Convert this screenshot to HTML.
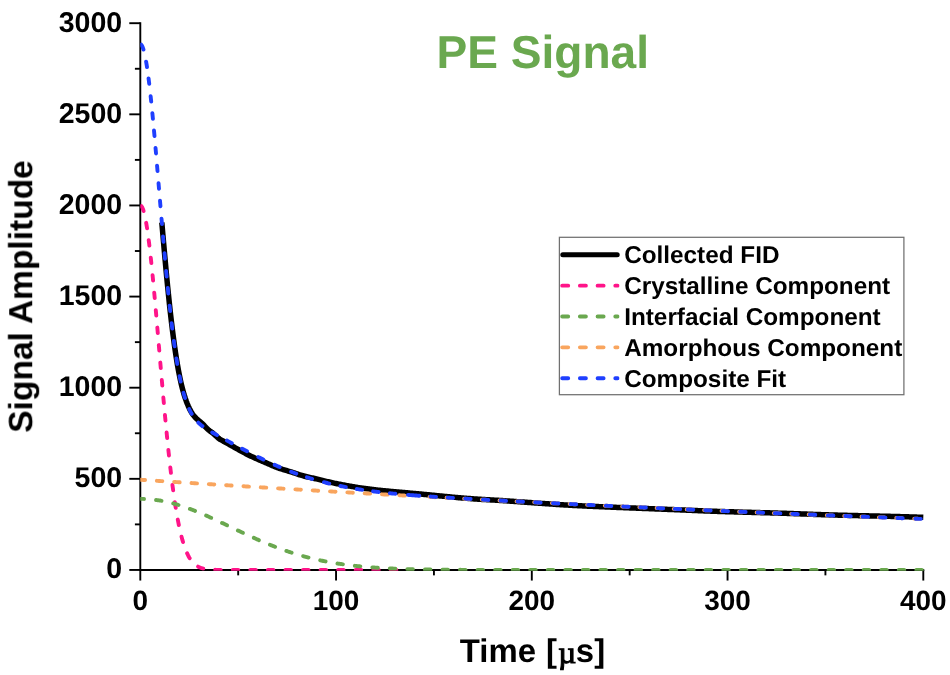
<!DOCTYPE html>
<html lang="en"><head><meta charset="utf-8"><title>PE Signal</title>
<style>html,body{margin:0;padding:0;background:#fff;}body{width:950px;height:675px;overflow:hidden;}svg{display:block;}</style>
</head><body>
<svg width="950" height="675" viewBox="0 0 950 675">
<defs><clipPath id="lg"><rect x="555" y="230" width="64.6" height="180"/></clipPath><filter id="soft" x="0" y="0" width="950" height="675" filterUnits="userSpaceOnUse" color-interpolation-filters="sRGB"><feGaussianBlur stdDeviation="0.45"/></filter><clipPath id="plot"><rect x="140.30" y="0" width="809.70" height="570.65"/></clipPath></defs>
<rect width="950" height="675" fill="#ffffff"/>
<g filter="url(#soft)">
<g stroke="#000" stroke-width="1.90" fill="none" stroke-linecap="butt">
<path d="M140.30,22.25 V570.90"/>
<path d="M139.35,569.95 H924.25"/>
<path d="M129.30,569.95 H140.30"/>
<path d="M134.90,524.39 H140.30"/>
<path d="M129.30,478.83 H140.30"/>
<path d="M134.90,433.26 H140.30"/>
<path d="M129.30,387.70 H140.30"/>
<path d="M134.90,342.14 H140.30"/>
<path d="M129.30,296.58 H140.30"/>
<path d="M134.90,251.01 H140.30"/>
<path d="M129.30,205.45 H140.30"/>
<path d="M134.90,159.89 H140.30"/>
<path d="M129.30,114.33 H140.30"/>
<path d="M134.90,68.76 H140.30"/>
<path d="M129.30,23.20 H140.30"/>
<path d="M140.30,569.95 V580.55"/>
<path d="M238.18,569.95 V575.35"/>
<path d="M336.05,569.95 V580.55"/>
<path d="M433.93,569.95 V575.35"/>
<path d="M531.80,569.95 V580.55"/>
<path d="M629.67,569.95 V575.35"/>
<path d="M727.55,569.95 V580.55"/>
<path d="M825.42,569.95 V575.35"/>
<path d="M923.30,569.95 V580.55"/>
</g>
<g clip-path="url(#plot)" fill="none" stroke-linejoin="round">
<path d="M161.83,222.43 L162.81,233.86 L163.79,245.08 L164.77,256.07 L165.75,266.77 L166.73,277.15 L167.71,287.18 L168.68,296.84 L169.66,306.11 L170.64,314.96 L171.62,323.40 L172.60,331.40 L173.58,338.97 L174.56,346.12 L175.54,352.83 L176.51,359.12 L177.49,365.01 L178.47,370.49 L179.45,375.58 L180.43,380.28 L181.41,384.59 L182.39,388.52 L183.37,392.12 L184.34,395.40 L185.32,398.40 L186.30,401.16 L187.28,403.69 L188.26,406.03 L189.24,408.21 L190.22,410.20 L191.20,411.95 L192.17,413.51 L193.15,414.89 L194.13,416.12 L195.11,417.22 L196.09,418.22 L197.07,419.14 L198.05,420.00 L199.03,420.83 L200.00,421.63 L200.98,422.44 L201.96,423.31 L202.94,424.26 L203.92,425.26 L204.90,426.29 L205.88,427.33 L206.86,428.34 L207.83,429.31 L208.81,430.19 L209.79,430.98 L210.77,431.62 L211.75,432.26 L212.73,433.02 L213.71,433.86 L214.69,434.75 L215.66,435.67 L216.64,436.59 L217.62,437.48 L218.60,438.30 L219.58,439.03 L220.56,439.63 L221.54,440.17 L222.52,440.70 L223.49,441.24 L224.47,441.78 L225.45,442.33 L226.43,442.87 L227.41,443.42 L228.39,443.97 L229.37,444.52 L230.35,445.07 L231.32,445.62 L232.30,446.17 L233.28,446.72 L234.26,447.27 L235.24,447.82 L236.22,448.36 L237.20,448.91 L238.18,449.46 L239.15,450.00 L240.13,450.54 L241.11,451.08 L242.09,451.61 L243.07,452.14 L244.05,452.67 L245.03,453.19 L246.00,453.71 L246.98,454.22 L247.96,454.71 L248.94,455.20 L249.92,455.68 L250.90,456.15 L251.88,456.62 L252.86,457.07 L253.84,457.52 L254.81,457.96 L255.79,458.40 L256.77,458.83 L257.75,459.26 L258.73,459.69 L259.71,460.11 L260.69,460.53 L261.67,460.95 L262.64,461.37 L263.62,461.79 L264.60,462.21 L265.58,462.63 L266.56,463.05 L267.54,463.48 L268.52,463.91 L269.50,464.34 L270.47,464.78 L271.45,465.23 L272.43,465.67 L273.41,466.09 L274.39,466.49 L275.37,466.88 L276.35,467.25 L277.33,467.61 L278.30,467.96 L279.28,468.29 L280.26,468.62 L281.24,468.94 L282.22,469.25 L283.20,469.55 L284.18,469.85 L285.15,470.15 L286.13,470.44 L287.11,470.73 L288.09,471.02 L289.07,471.32 L290.05,471.61 L291.03,471.91 L292.01,472.21 L292.99,472.52 L293.96,472.84 L294.94,473.17 L295.92,473.51 L296.90,473.85 L297.88,474.20 L298.86,474.53 L299.84,474.84 L300.82,475.14 L301.79,475.43 L302.77,475.71 L303.75,475.97 L304.73,476.23 L305.71,476.48 L306.69,476.72 L307.67,476.95 L308.64,477.18 L309.62,477.40 L310.60,477.62 L311.58,477.83 L312.56,478.05 L313.54,478.26 L314.52,478.48 L315.50,478.69 L316.48,478.91 L317.45,479.13 L318.43,479.36 L319.41,479.59 L320.39,479.83 L321.37,480.07 L322.35,480.33 L323.33,480.58 L324.31,480.83 L325.28,481.08 L326.26,481.32 L327.24,481.56 L328.22,481.79 L329.20,482.02 L330.18,482.24 L331.16,482.47 L332.13,482.68 L333.11,482.90 L334.09,483.11 L335.07,483.32 L336.05,483.52 L337.03,483.72 L338.01,483.92 L338.99,484.12 L339.97,484.31 L340.94,484.50 L341.92,484.69 L342.90,484.88 L343.88,485.07 L344.86,485.25 L345.84,485.44 L346.82,485.62 L347.80,485.80 L348.77,485.98 L349.75,486.15 L350.73,486.32 L351.71,486.49 L352.69,486.66 L353.67,486.82 L354.65,486.98 L355.62,487.14 L356.60,487.30 L357.58,487.45 L358.56,487.60 L359.54,487.74 L360.52,487.89 L361.50,488.03 L362.48,488.17 L363.46,488.31 L364.43,488.44 L365.41,488.57 L366.39,488.70 L367.37,488.83 L368.35,488.96 L369.33,489.08 L370.31,489.20 L371.29,489.32 L372.26,489.44 L373.24,489.56 L374.22,489.67 L375.20,489.78 L376.18,489.89 L377.16,490.00 L378.14,490.11 L379.12,490.22 L380.09,490.32 L381.07,490.42 L382.05,490.53 L383.03,490.63 L384.01,490.73 L384.99,490.82 L385.97,490.92 L386.95,491.02 L387.92,491.11 L388.90,491.21 L389.88,491.30 L390.86,491.39 L391.84,491.48 L392.82,491.57 L393.80,491.66 L394.77,491.75 L395.75,491.84 L396.73,491.92 L397.71,492.01 L398.69,492.10 L399.67,492.18 L400.65,492.27 L401.63,492.35 L402.61,492.44 L403.58,492.52 L404.56,492.60 L405.54,492.69 L406.52,492.77 L407.50,492.86 L408.48,492.94 L409.46,493.03 L410.44,493.12 L411.41,493.21 L412.39,493.29 L413.37,493.38 L414.35,493.47 L415.33,493.56 L416.31,493.65 L417.29,493.74 L418.26,493.84 L419.24,493.93 L420.22,494.02 L421.20,494.11 L422.18,494.21 L423.16,494.30 L424.14,494.39 L425.12,494.49 L426.10,494.58 L427.07,494.67 L428.05,494.77 L429.03,494.86 L430.01,494.96 L430.99,495.05 L431.97,495.15 L432.95,495.24 L433.93,495.34 L434.90,495.43 L435.88,495.53 L436.86,495.63 L437.84,495.72 L438.82,495.82 L439.80,495.91 L440.78,496.00 L441.75,496.10 L442.73,496.19 L443.71,496.29 L444.69,496.38 L445.67,496.47 L446.65,496.57 L447.63,496.66 L448.61,496.75 L449.59,496.84 L450.56,496.93 L451.54,497.03 L452.52,497.12 L453.50,497.21 L454.48,497.29 L455.46,497.38 L456.44,497.47 L457.42,497.56 L458.39,497.64 L459.37,497.73 L460.35,497.81 L461.33,497.90 L462.31,497.98 L463.29,498.06 L464.27,498.14 L465.25,498.22 L466.22,498.30 L467.20,498.38 L468.18,498.46 L469.16,498.53 L470.14,498.61 L471.12,498.68 L472.10,498.75 L473.07,498.82 L474.05,498.89 L475.03,498.96 L476.01,499.03 L476.99,499.09 L477.97,499.16 L478.95,499.22 L479.93,499.28 L480.91,499.34 L481.88,499.40 L482.86,499.46 L483.84,499.51 L484.82,499.56 L485.80,499.62 L486.78,499.67 L487.76,499.72 L488.74,499.78 L489.71,499.83 L490.69,499.89 L491.67,499.95 L492.65,500.00 L493.63,500.06 L494.61,500.12 L495.59,500.18 L496.56,500.24 L497.54,500.30 L498.52,500.36 L499.50,500.42 L500.48,500.49 L501.46,500.55 L502.44,500.61 L503.42,500.68 L504.40,500.74 L505.37,500.81 L506.35,500.87 L507.33,500.94 L508.31,501.00 L509.29,501.07 L510.27,501.14 L511.25,501.21 L512.23,501.27 L513.20,501.34 L514.18,501.41 L515.16,501.48 L516.14,501.55 L517.12,501.62 L518.10,501.69 L519.08,501.76 L520.06,501.83 L521.03,501.90 L522.01,501.97 L522.99,502.04 L523.97,502.11 L524.95,502.18 L525.93,502.25 L526.91,502.32 L527.88,502.39 L528.86,502.46 L529.84,502.53 L530.82,502.60 L531.80,502.68 L532.78,502.75 L533.76,502.82 L534.74,502.89 L535.72,502.96 L536.69,503.03 L537.67,503.10 L538.65,503.17 L539.63,503.24 L540.61,503.31 L541.59,503.38 L542.57,503.45 L543.55,503.52 L544.52,503.59 L545.50,503.66 L546.48,503.73 L547.46,503.80 L548.44,503.86 L549.42,503.93 L550.40,504.00 L551.38,504.07 L552.35,504.13 L553.33,504.20 L554.31,504.26 L555.29,504.33 L556.27,504.39 L557.25,504.46 L558.23,504.52 L559.21,504.59 L560.18,504.65 L561.16,504.71 L562.14,504.77 L563.12,504.83 L564.10,504.89 L565.08,504.95 L566.06,505.01 L567.04,505.07 L568.01,505.13 L568.99,505.19 L569.97,505.24 L570.95,505.30 L571.93,505.35 L572.91,505.41 L573.89,505.46 L574.87,505.51 L575.84,505.57 L576.82,505.62 L577.80,505.67 L578.78,505.71 L579.76,505.76 L580.74,505.81 L581.72,505.86 L582.69,505.90 L583.67,505.95 L584.65,506.00 L585.63,506.04 L586.61,506.09 L587.59,506.13 L588.57,506.18 L589.55,506.22 L590.53,506.26 L591.50,506.31 L592.48,506.35 L593.46,506.40 L594.44,506.44 L595.42,506.48 L596.40,506.53 L597.38,506.57 L598.36,506.61 L599.33,506.65 L600.31,506.70 L601.29,506.74 L602.27,506.78 L603.25,506.82 L604.23,506.86 L605.21,506.91 L606.18,506.95 L607.16,506.99 L608.14,507.03 L609.12,507.07 L610.10,507.11 L611.08,507.15 L612.06,507.19 L613.04,507.23 L614.02,507.27 L614.99,507.31 L615.97,507.35 L616.95,507.39 L617.93,507.43 L618.91,507.47 L619.89,507.51 L620.87,507.55 L621.85,507.59 L622.82,507.62 L623.80,507.66 L624.78,507.70 L625.76,507.74 L626.74,507.78 L627.72,507.82 L628.70,507.86 L629.67,507.89 L630.65,507.93 L631.63,507.97 L632.61,508.01 L633.59,508.05 L634.57,508.09 L635.55,508.12 L636.53,508.16 L637.50,508.20 L638.48,508.24 L639.46,508.27 L640.44,508.31 L641.42,508.35 L642.40,508.39 L643.38,508.43 L644.36,508.46 L645.34,508.50 L646.31,508.54 L647.29,508.58 L648.27,508.61 L649.25,508.65 L650.23,508.69 L651.21,508.73 L652.19,508.77 L653.16,508.80 L654.14,508.84 L655.12,508.88 L656.10,508.92 L657.08,508.95 L658.06,508.99 L659.04,509.03 L660.02,509.07 L661.00,509.11 L661.97,509.15 L662.95,509.18 L663.93,509.22 L664.91,509.26 L665.89,509.30 L666.87,509.34 L667.85,509.38 L668.83,509.41 L669.80,509.45 L670.78,509.49 L671.76,509.53 L672.74,509.57 L673.72,509.61 L674.70,509.65 L675.68,509.69 L676.65,509.73 L677.63,509.77 L678.61,509.81 L679.59,509.85 L680.57,509.89 L681.55,509.93 L682.53,509.97 L683.51,510.01 L684.49,510.05 L685.46,510.09 L686.44,510.13 L687.42,510.17 L688.40,510.21 L689.38,510.26 L690.36,510.30 L691.34,510.34 L692.32,510.38 L693.29,510.42 L694.27,510.47 L695.25,510.51 L696.23,510.55 L697.21,510.59 L698.19,510.64 L699.17,510.68 L700.14,510.72 L701.12,510.76 L702.10,510.80 L703.08,510.84 L704.06,510.88 L705.04,510.92 L706.02,510.95 L707.00,510.99 L707.97,511.03 L708.95,511.07 L709.93,511.10 L710.91,511.14 L711.89,511.17 L712.87,511.21 L713.85,511.24 L714.83,511.28 L715.81,511.31 L716.78,511.35 L717.76,511.38 L718.74,511.41 L719.72,511.44 L720.70,511.48 L721.68,511.51 L722.66,511.54 L723.63,511.57 L724.61,511.60 L725.59,511.63 L726.57,511.66 L727.55,511.69 L728.53,511.72 L729.51,511.75 L730.49,511.78 L731.46,511.81 L732.44,511.84 L733.42,511.87 L734.40,511.90 L735.38,511.93 L736.36,511.95 L737.34,511.98 L738.32,512.01 L739.30,512.04 L740.27,512.07 L741.25,512.09 L742.23,512.12 L743.21,512.15 L744.19,512.17 L745.17,512.20 L746.15,512.23 L747.12,512.26 L748.10,512.28 L749.08,512.31 L750.06,512.34 L751.04,512.36 L752.02,512.39 L753.00,512.42 L753.98,512.44 L754.95,512.47 L755.93,512.50 L756.91,512.52 L757.89,512.55 L758.87,512.58 L759.85,512.60 L760.83,512.63 L761.81,512.66 L762.79,512.68 L763.76,512.71 L764.74,512.74 L765.72,512.76 L766.70,512.79 L767.68,512.82 L768.66,512.85 L769.64,512.87 L770.62,512.90 L771.59,512.93 L772.57,512.96 L773.55,512.99 L774.53,513.01 L775.51,513.04 L776.49,513.07 L777.47,513.10 L778.44,513.13 L779.42,513.16 L780.40,513.19 L781.38,513.22 L782.36,513.25 L783.34,513.28 L784.32,513.31 L785.30,513.34 L786.28,513.37 L787.25,513.41 L788.23,513.44 L789.21,513.47 L790.19,513.50 L791.17,513.54 L792.15,513.57 L793.13,513.60 L794.11,513.64 L795.08,513.67 L796.06,513.71 L797.04,513.74 L798.02,513.78 L799.00,513.81 L799.98,513.85 L800.96,513.89 L801.93,513.93 L802.91,513.96 L803.89,514.00 L804.87,514.04 L805.85,514.08 L806.83,514.12 L807.81,514.16 L808.79,514.20 L809.77,514.24 L810.74,514.27 L811.72,514.31 L812.70,514.35 L813.68,514.38 L814.66,514.42 L815.64,514.45 L816.62,514.49 L817.60,514.52 L818.57,514.55 L819.55,514.59 L820.53,514.62 L821.51,514.65 L822.49,514.68 L823.47,514.71 L824.45,514.74 L825.42,514.77 L826.40,514.80 L827.38,514.83 L828.36,514.86 L829.34,514.89 L830.32,514.92 L831.30,514.95 L832.28,514.98 L833.26,515.00 L834.23,515.03 L835.21,515.06 L836.19,515.08 L837.17,515.11 L838.15,515.14 L839.13,515.16 L840.11,515.19 L841.09,515.21 L842.06,515.24 L843.04,515.26 L844.02,515.29 L845.00,515.31 L845.98,515.34 L846.96,515.36 L847.94,515.39 L848.91,515.41 L849.89,515.43 L850.87,515.46 L851.85,515.48 L852.83,515.50 L853.81,515.53 L854.79,515.55 L855.77,515.57 L856.75,515.59 L857.72,515.62 L858.70,515.64 L859.68,515.66 L860.66,515.68 L861.64,515.71 L862.62,515.73 L863.60,515.75 L864.58,515.77 L865.55,515.79 L866.53,515.82 L867.51,515.84 L868.49,515.86 L869.47,515.88 L870.45,515.90 L871.43,515.93 L872.40,515.95 L873.38,515.97 L874.36,515.99 L875.34,516.01 L876.32,516.04 L877.30,516.06 L878.28,516.08 L879.26,516.10 L880.24,516.13 L881.21,516.15 L882.19,516.17 L883.17,516.20 L884.15,516.22 L885.13,516.24 L886.11,516.27 L887.09,516.29 L888.07,516.31 L889.04,516.34 L890.02,516.36 L891.00,516.39 L891.98,516.41 L892.96,516.44 L893.94,516.46 L894.92,516.49 L895.89,516.51 L896.87,516.54 L897.85,516.56 L898.83,516.59 L899.81,516.62 L900.79,516.64 L901.77,516.67 L902.75,516.70 L903.72,516.73 L904.70,516.75 L905.68,516.78 L906.66,516.81 L907.64,516.84 L908.62,516.87 L909.60,516.90 L910.58,516.93 L911.56,516.96 L912.53,516.99 L913.51,517.02 L914.49,517.06 L915.47,517.09 L916.45,517.12 L917.43,517.15 L918.41,517.19 L919.38,517.22 L920.36,517.26 L921.34,517.29 L922.32,517.33 L923.30,517.36" stroke="#000" stroke-width="5.5" stroke-linecap="butt"/>
<path d="M140.30,205.45 L141.28,205.94 L142.26,207.41 L143.24,209.85 L144.22,213.24 L145.19,217.55 L146.17,222.74 L147.15,228.78 L148.13,235.62 L149.11,243.21 L150.09,251.48 L151.07,260.38 L152.05,269.85 L153.02,279.81 L154.00,290.19 L154.98,300.93 L155.96,311.96 L156.94,323.20 L157.92,334.59 L158.90,346.06 L159.88,357.54 L160.85,368.98 L161.83,380.31 L162.81,391.49 L163.79,402.46 L164.77,413.18 L165.75,423.61 L166.73,433.72 L167.71,443.46 L168.68,452.83 L169.66,461.80 L170.64,470.35 L171.62,478.47 L172.60,486.15 L173.58,493.40 L174.56,500.21 L175.54,506.58 L176.51,512.53 L177.49,518.06 L178.47,523.18 L179.45,527.91 L180.43,532.27 L181.41,536.26 L182.39,539.91 L183.37,543.24 L184.34,546.27 L185.32,549.00 L186.30,551.48 L187.28,553.70 L188.26,555.69 L189.24,557.48 L190.22,559.07 L191.20,560.48 L192.17,561.73 L193.15,562.84 L194.13,563.81 L195.11,564.66 L196.09,565.41 L197.07,566.06 L198.05,566.63 L199.03,567.12 L200.00,567.55 L200.98,567.92 L201.96,568.23 L202.94,568.50 L203.92,568.73 L204.90,568.93 L205.88,569.10 L206.86,569.24 L207.83,569.36 L208.81,569.46 L209.79,569.55 L210.77,569.62 L211.75,569.68 L212.73,569.73 L213.71,569.77 L214.69,569.80 L215.66,569.83 L216.64,569.85 L217.62,569.87 L218.60,569.89 L219.58,569.90 L220.56,569.91 L221.54,569.92 L222.52,569.92 L223.49,569.93 L224.47,569.93 L225.45,569.94 L226.43,569.94 L227.41,569.94 L228.39,569.94 L229.37,569.94 L230.35,569.95 L231.32,569.95 L232.30,569.95 L233.28,569.95 L234.26,569.95 L235.24,569.95 L236.22,569.95 L237.20,569.95 L238.18,569.95 L239.15,569.95 L240.13,569.95 L241.11,569.95 L242.09,569.95 L243.07,569.95 L244.05,569.95 L245.03,569.95 L246.00,569.95 L246.98,569.95 L247.96,569.95 L248.94,569.95 L249.92,569.95 L250.90,569.95 L251.88,569.95 L252.86,569.95 L253.84,569.95 L254.81,569.95 L255.79,569.95 L256.77,569.95 L257.75,569.95 L258.73,569.95 L259.71,569.95 L260.69,569.95 L261.67,569.95 L262.64,569.95 L263.62,569.95 L264.60,569.95 L265.58,569.95 L266.56,569.95 L267.54,569.95 L268.52,569.95 L269.50,569.95 L270.47,569.95 L271.45,569.95 L272.43,569.95 L273.41,569.95 L274.39,569.95 L275.37,569.95 L276.35,569.95 L277.33,569.95 L278.30,569.95 L279.28,569.95 L280.26,569.95 L281.24,569.95 L282.22,569.95 L283.20,569.95 L284.18,569.95 L285.15,569.95 L286.13,569.95 L287.11,569.95 L288.09,569.95 L289.07,569.95 L290.05,569.95 L291.03,569.95 L292.01,569.95 L292.99,569.95 L293.96,569.95 L294.94,569.95 L295.92,569.95 L296.90,569.95 L297.88,569.95 L298.86,569.95 L299.84,569.95 L300.82,569.95 L301.79,569.95 L302.77,569.95 L303.75,569.95 L304.73,569.95 L305.71,569.95 L306.69,569.95 L307.67,569.95 L308.64,569.95 L309.62,569.95 L310.60,569.95 L311.58,569.95 L312.56,569.95 L313.54,569.95 L314.52,569.95 L315.50,569.95 L316.48,569.95 L317.45,569.95 L318.43,569.95 L319.41,569.95 L320.39,569.95 L321.37,569.95 L322.35,569.95 L323.33,569.95 L324.31,569.95 L325.28,569.95 L326.26,569.95 L327.24,569.95 L328.22,569.95 L329.20,569.95 L330.18,569.95 L331.16,569.95 L332.13,569.95 L333.11,569.95 L334.09,569.95 L335.07,569.95 L336.05,569.95 L337.03,569.95 L338.01,569.95 L338.99,569.95 L339.97,569.95 L340.94,569.95 L341.92,569.95 L342.90,569.95 L343.88,569.95 L344.86,569.95 L345.84,569.95 L346.82,569.95 L347.80,569.95 L348.77,569.95 L349.75,569.95 L350.73,569.95 L351.71,569.95 L352.69,569.95 L353.67,569.95 L354.65,569.95 L355.62,569.95 L356.60,569.95 L357.58,569.95 L358.56,569.95 L359.54,569.95 L360.52,569.95 L361.50,569.95 L362.48,569.95 L363.46,569.95 L364.43,569.95 L365.41,569.95 L366.39,569.95 L367.37,569.95 L368.35,569.95 L369.33,569.95 L370.31,569.95 L371.29,569.95 L372.26,569.95 L373.24,569.95 L374.22,569.95 L375.20,569.95 L376.18,569.95 L377.16,569.95 L378.14,569.95 L379.12,569.95 L380.09,569.95 L381.07,569.95 L382.05,569.95 L383.03,569.95 L384.01,569.95 L384.99,569.95 L385.97,569.95 L386.95,569.95 L387.92,569.95 L388.90,569.95 L389.88,569.95 L390.86,569.95 L391.84,569.95 L392.82,569.95 L393.80,569.95 L394.77,569.95 L395.75,569.95 L396.73,569.95 L397.71,569.95 L398.69,569.95 L399.67,569.95 L400.65,569.95 L401.63,569.95 L402.61,569.95 L403.58,569.95 L404.56,569.95" stroke="#FF1489" stroke-width="3.9" stroke-dasharray="5.500 12.060" stroke-dashoffset="-1.250" stroke-linecap="round"/>
<path d="M140.30,498.87 L141.28,498.88 L142.26,498.89 L143.24,498.91 L144.22,498.94 L145.19,498.98 L146.17,499.02 L147.15,499.08 L148.13,499.14 L149.11,499.21 L150.09,499.29 L151.07,499.38 L152.05,499.48 L153.02,499.58 L154.00,499.69 L154.98,499.81 L155.96,499.94 L156.94,500.08 L157.92,500.22 L158.90,500.37 L159.88,500.54 L160.85,500.70 L161.83,500.88 L162.81,501.06 L163.79,501.25 L164.77,501.45 L165.75,501.66 L166.73,501.87 L167.71,502.09 L168.68,502.32 L169.66,502.56 L170.64,502.80 L171.62,503.05 L172.60,503.31 L173.58,503.57 L174.56,503.84 L175.54,504.12 L176.51,504.40 L177.49,504.69 L178.47,504.99 L179.45,505.29 L180.43,505.60 L181.41,505.92 L182.39,506.24 L183.37,506.57 L184.34,506.90 L185.32,507.24 L186.30,507.58 L187.28,507.93 L188.26,508.29 L189.24,508.65 L190.22,509.01 L191.20,509.38 L192.17,509.76 L193.15,510.14 L194.13,510.52 L195.11,510.91 L196.09,511.30 L197.07,511.70 L198.05,512.10 L199.03,512.51 L200.00,512.92 L200.98,513.33 L201.96,513.75 L202.94,514.17 L203.92,514.59 L204.90,515.02 L205.88,515.45 L206.86,515.89 L207.83,516.32 L208.81,516.76 L209.79,517.20 L210.77,517.65 L211.75,518.10 L212.73,518.54 L213.71,519.00 L214.69,519.45 L215.66,519.90 L216.64,520.36 L217.62,520.82 L218.60,521.28 L219.58,521.74 L220.56,522.20 L221.54,522.67 L222.52,523.13 L223.49,523.60 L224.47,524.07 L225.45,524.53 L226.43,525.00 L227.41,525.47 L228.39,525.94 L229.37,526.41 L230.35,526.88 L231.32,527.34 L232.30,527.81 L233.28,528.28 L234.26,528.75 L235.24,529.22 L236.22,529.68 L237.20,530.15 L238.18,530.62 L239.15,531.08 L240.13,531.55 L241.11,532.01 L242.09,532.47 L243.07,532.93 L244.05,533.39 L245.03,533.85 L246.00,534.31 L246.98,534.76 L247.96,535.21 L248.94,535.66 L249.92,536.11 L250.90,536.56 L251.88,537.01 L252.86,537.45 L253.84,537.89 L254.81,538.33 L255.79,538.77 L256.77,539.20 L257.75,539.63 L258.73,540.06 L259.71,540.49 L260.69,540.91 L261.67,541.33 L262.64,541.75 L263.62,542.17 L264.60,542.58 L265.58,542.99 L266.56,543.40 L267.54,543.80 L268.52,544.20 L269.50,544.60 L270.47,544.99 L271.45,545.39 L272.43,545.77 L273.41,546.16 L274.39,546.54 L275.37,546.92 L276.35,547.29 L277.33,547.66 L278.30,548.03 L279.28,548.39 L280.26,548.75 L281.24,549.11 L282.22,549.47 L283.20,549.81 L284.18,550.16 L285.15,550.50 L286.13,550.84 L287.11,551.18 L288.09,551.51 L289.07,551.84 L290.05,552.16 L291.03,552.48 L292.01,552.80 L292.99,553.11 L293.96,553.42 L294.94,553.72 L295.92,554.03 L296.90,554.32 L297.88,554.62 L298.86,554.91 L299.84,555.19 L300.82,555.48 L301.79,555.76 L302.77,556.03 L303.75,556.30 L304.73,556.57 L305.71,556.83 L306.69,557.10 L307.67,557.35 L308.64,557.61 L309.62,557.85 L310.60,558.10 L311.58,558.34 L312.56,558.58 L313.54,558.82 L314.52,559.05 L315.50,559.28 L316.48,559.50 L317.45,559.72 L318.43,559.94 L319.41,560.15 L320.39,560.36 L321.37,560.57 L322.35,560.77 L323.33,560.97 L324.31,561.17 L325.28,561.36 L326.26,561.55 L327.24,561.74 L328.22,561.93 L329.20,562.11 L330.18,562.28 L331.16,562.46 L332.13,562.63 L333.11,562.80 L334.09,562.96 L335.07,563.13 L336.05,563.28 L337.03,563.44 L338.01,563.59 L338.99,563.74 L339.97,563.89 L340.94,564.04 L341.92,564.18 L342.90,564.32 L343.88,564.46 L344.86,564.59 L345.84,564.72 L346.82,564.85 L347.80,564.98 L348.77,565.10 L349.75,565.22 L350.73,565.34 L351.71,565.45 L352.69,565.57 L353.67,565.68 L354.65,565.79 L355.62,565.90 L356.60,566.00 L357.58,566.10 L358.56,566.20 L359.54,566.30 L360.52,566.40 L361.50,566.49 L362.48,566.58 L363.46,566.67 L364.43,566.76 L365.41,566.84 L366.39,566.93 L367.37,567.01 L368.35,567.09 L369.33,567.17 L370.31,567.24 L371.29,567.32 L372.26,567.39 L373.24,567.46 L374.22,567.53 L375.20,567.60 L376.18,567.66 L377.16,567.73 L378.14,567.79 L379.12,567.85 L380.09,567.91 L381.07,567.97 L382.05,568.03 L383.03,568.08 L384.01,568.14 L384.99,568.19 L385.97,568.24 L386.95,568.29 L387.92,568.34 L388.90,568.39 L389.88,568.43 L390.86,568.48 L391.84,568.52 L392.82,568.57 L393.80,568.61 L394.77,568.65 L395.75,568.69 L396.73,568.73 L397.71,568.76 L398.69,568.80 L399.67,568.84 L400.65,568.87 L401.63,568.90 L402.61,568.94 L403.58,568.97 L404.56,569.00 L405.54,569.03 L406.52,569.06 L407.50,569.09 L408.48,569.11 L409.46,569.14 L410.44,569.17 L411.41,569.19 L412.39,569.22 L413.37,569.24 L414.35,569.26 L415.33,569.29 L416.31,569.31 L417.29,569.33 L418.26,569.35 L419.24,569.37 L420.22,569.39 L421.20,569.41 L422.18,569.42 L423.16,569.44 L424.14,569.46 L425.12,569.48 L426.10,569.49 L427.07,569.51 L428.05,569.52 L429.03,569.54 L430.01,569.55 L430.99,569.57 L431.97,569.58 L432.95,569.59 L433.93,569.60 L434.90,569.62 L435.88,569.63 L436.86,569.64 L437.84,569.65 L438.82,569.66 L439.80,569.67 L440.78,569.68 L441.75,569.69 L442.73,569.70 L443.71,569.71 L444.69,569.72 L445.67,569.73 L446.65,569.73 L447.63,569.74 L448.61,569.75 L449.59,569.76 L450.56,569.76 L451.54,569.77 L452.52,569.78 L453.50,569.78 L454.48,569.79 L455.46,569.80 L456.44,569.80 L457.42,569.81 L458.39,569.81 L459.37,569.82 L460.35,569.82 L461.33,569.83 L462.31,569.83 L463.29,569.84 L464.27,569.84 L465.25,569.85 L466.22,569.85 L467.20,569.85 L468.18,569.86 L469.16,569.86 L470.14,569.86 L471.12,569.87 L472.10,569.87 L473.07,569.87 L474.05,569.88 L475.03,569.88 L476.01,569.88 L476.99,569.89 L477.97,569.89 L478.95,569.89 L479.93,569.89 L480.91,569.90 L481.88,569.90 L482.86,569.90 L483.84,569.90 L484.82,569.90 L485.80,569.91 L486.78,569.91 L487.76,569.91 L488.74,569.91 L489.71,569.91 L490.69,569.91 L491.67,569.92 L492.65,569.92 L493.63,569.92 L494.61,569.92 L495.59,569.92 L496.56,569.92 L497.54,569.92 L498.52,569.92 L499.50,569.93 L500.48,569.93 L501.46,569.93 L502.44,569.93 L503.42,569.93 L504.40,569.93 L505.37,569.93 L506.35,569.93 L507.33,569.93 L508.31,569.93 L509.29,569.93 L510.27,569.93 L511.25,569.94 L512.23,569.94 L513.20,569.94 L514.18,569.94 L515.16,569.94 L516.14,569.94 L517.12,569.94 L518.10,569.94 L519.08,569.94 L520.06,569.94 L521.03,569.94 L522.01,569.94 L522.99,569.94 L523.97,569.94 L524.95,569.94 L525.93,569.94 L526.91,569.94 L527.88,569.94 L528.86,569.94 L529.84,569.94 L530.82,569.94 L531.80,569.94 L532.78,569.94 L533.76,569.95 L534.74,569.95 L535.72,569.95 L536.69,569.95 L537.67,569.95 L538.65,569.95 L539.63,569.95 L540.61,569.95 L541.59,569.95 L542.57,569.95 L543.55,569.95 L544.52,569.95 L545.50,569.95 L546.48,569.95 L547.46,569.95 L548.44,569.95 L549.42,569.95 L550.40,569.95 L551.38,569.95 L552.35,569.95 L553.33,569.95 L554.31,569.95 L555.29,569.95 L556.27,569.95 L557.25,569.95 L558.23,569.95 L559.21,569.95 L560.18,569.95 L561.16,569.95 L562.14,569.95 L563.12,569.95 L564.10,569.95 L565.08,569.95 L566.06,569.95 L567.04,569.95 L568.01,569.95 L568.99,569.95 L569.97,569.95 L570.95,569.95 L571.93,569.95 L572.91,569.95 L573.89,569.95 L574.87,569.95 L575.84,569.95 L576.82,569.95 L577.80,569.95 L578.78,569.95 L579.76,569.95 L580.74,569.95 L581.72,569.95 L582.69,569.95 L583.67,569.95 L584.65,569.95 L585.63,569.95 L586.61,569.95 L587.59,569.95 L588.57,569.95 L589.55,569.95 L590.53,569.95 L591.50,569.95 L592.48,569.95 L593.46,569.95 L594.44,569.95 L595.42,569.95 L596.40,569.95 L597.38,569.95 L598.36,569.95 L599.33,569.95 L600.31,569.95 L601.29,569.95 L602.27,569.95 L603.25,569.95 L604.23,569.95 L605.21,569.95 L606.18,569.95 L607.16,569.95 L608.14,569.95 L609.12,569.95 L610.10,569.95 L611.08,569.95 L612.06,569.95 L613.04,569.95 L614.02,569.95 L614.99,569.95 L615.97,569.95 L616.95,569.95 L617.93,569.95 L618.91,569.95 L619.89,569.95 L620.87,569.95 L621.85,569.95 L622.82,569.95 L623.80,569.95 L624.78,569.95 L625.76,569.95 L626.74,569.95 L627.72,569.95 L628.70,569.95 L629.67,569.95 L630.65,569.95 L631.63,569.95 L632.61,569.95 L633.59,569.95 L634.57,569.95 L635.55,569.95 L636.53,569.95 L637.50,569.95 L638.48,569.95 L639.46,569.95 L640.44,569.95 L641.42,569.95 L642.40,569.95 L643.38,569.95 L644.36,569.95 L645.34,569.95 L646.31,569.95 L647.29,569.95 L648.27,569.95 L649.25,569.95 L650.23,569.95 L651.21,569.95 L652.19,569.95 L653.16,569.95 L654.14,569.95 L655.12,569.95 L656.10,569.95 L657.08,569.95 L658.06,569.95 L659.04,569.95 L660.02,569.95 L661.00,569.95 L661.97,569.95 L662.95,569.95 L663.93,569.95 L664.91,569.95 L665.89,569.95 L666.87,569.95 L667.85,569.95 L668.83,569.95 L669.80,569.95 L670.78,569.95 L671.76,569.95 L672.74,569.95 L673.72,569.95 L674.70,569.95 L675.68,569.95 L676.65,569.95 L677.63,569.95 L678.61,569.95 L679.59,569.95 L680.57,569.95 L681.55,569.95 L682.53,569.95 L683.51,569.95 L684.49,569.95 L685.46,569.95 L686.44,569.95 L687.42,569.95 L688.40,569.95 L689.38,569.95 L690.36,569.95 L691.34,569.95 L692.32,569.95 L693.29,569.95 L694.27,569.95 L695.25,569.95 L696.23,569.95 L697.21,569.95 L698.19,569.95 L699.17,569.95 L700.14,569.95 L701.12,569.95 L702.10,569.95 L703.08,569.95 L704.06,569.95 L705.04,569.95 L706.02,569.95 L707.00,569.95 L707.97,569.95 L708.95,569.95 L709.93,569.95 L710.91,569.95 L711.89,569.95 L712.87,569.95 L713.85,569.95 L714.83,569.95 L715.81,569.95 L716.78,569.95 L717.76,569.95 L718.74,569.95 L719.72,569.95 L720.70,569.95 L721.68,569.95 L722.66,569.95 L723.63,569.95 L724.61,569.95 L725.59,569.95 L726.57,569.95 L727.55,569.95 L728.53,569.95 L729.51,569.95 L730.49,569.95 L731.46,569.95 L732.44,569.95 L733.42,569.95 L734.40,569.95 L735.38,569.95 L736.36,569.95 L737.34,569.95 L738.32,569.95 L739.30,569.95 L740.27,569.95 L741.25,569.95 L742.23,569.95 L743.21,569.95 L744.19,569.95 L745.17,569.95 L746.15,569.95 L747.12,569.95 L748.10,569.95 L749.08,569.95 L750.06,569.95 L751.04,569.95 L752.02,569.95 L753.00,569.95 L753.98,569.95 L754.95,569.95 L755.93,569.95 L756.91,569.95 L757.89,569.95 L758.87,569.95 L759.85,569.95 L760.83,569.95 L761.81,569.95 L762.79,569.95 L763.76,569.95 L764.74,569.95 L765.72,569.95 L766.70,569.95 L767.68,569.95 L768.66,569.95 L769.64,569.95 L770.62,569.95 L771.59,569.95 L772.57,569.95 L773.55,569.95 L774.53,569.95 L775.51,569.95 L776.49,569.95 L777.47,569.95 L778.44,569.95 L779.42,569.95 L780.40,569.95 L781.38,569.95 L782.36,569.95 L783.34,569.95 L784.32,569.95 L785.30,569.95 L786.28,569.95 L787.25,569.95 L788.23,569.95 L789.21,569.95 L790.19,569.95 L791.17,569.95 L792.15,569.95 L793.13,569.95 L794.11,569.95 L795.08,569.95 L796.06,569.95 L797.04,569.95 L798.02,569.95 L799.00,569.95 L799.98,569.95 L800.96,569.95 L801.93,569.95 L802.91,569.95 L803.89,569.95 L804.87,569.95 L805.85,569.95 L806.83,569.95 L807.81,569.95 L808.79,569.95 L809.77,569.95 L810.74,569.95 L811.72,569.95 L812.70,569.95 L813.68,569.95 L814.66,569.95 L815.64,569.95 L816.62,569.95 L817.60,569.95 L818.57,569.95 L819.55,569.95 L820.53,569.95 L821.51,569.95 L822.49,569.95 L823.47,569.95 L824.45,569.95 L825.42,569.95 L826.40,569.95 L827.38,569.95 L828.36,569.95 L829.34,569.95 L830.32,569.95 L831.30,569.95 L832.28,569.95 L833.26,569.95 L834.23,569.95 L835.21,569.95 L836.19,569.95 L837.17,569.95 L838.15,569.95 L839.13,569.95 L840.11,569.95 L841.09,569.95 L842.06,569.95 L843.04,569.95 L844.02,569.95 L845.00,569.95 L845.98,569.95 L846.96,569.95 L847.94,569.95 L848.91,569.95 L849.89,569.95 L850.87,569.95 L851.85,569.95 L852.83,569.95 L853.81,569.95 L854.79,569.95 L855.77,569.95 L856.75,569.95 L857.72,569.95 L858.70,569.95 L859.68,569.95 L860.66,569.95 L861.64,569.95 L862.62,569.95 L863.60,569.95 L864.58,569.95 L865.55,569.95 L866.53,569.95 L867.51,569.95 L868.49,569.95 L869.47,569.95 L870.45,569.95 L871.43,569.95 L872.40,569.95 L873.38,569.95 L874.36,569.95 L875.34,569.95 L876.32,569.95 L877.30,569.95 L878.28,569.95 L879.26,569.95 L880.24,569.95 L881.21,569.95 L882.19,569.95 L883.17,569.95 L884.15,569.95 L885.13,569.95 L886.11,569.95 L887.09,569.95 L888.07,569.95 L889.04,569.95 L890.02,569.95 L891.00,569.95 L891.98,569.95 L892.96,569.95 L893.94,569.95 L894.92,569.95 L895.89,569.95 L896.87,569.95 L897.85,569.95 L898.83,569.95 L899.81,569.95 L900.79,569.95 L901.77,569.95 L902.75,569.95 L903.72,569.95 L904.70,569.95 L905.68,569.95 L906.66,569.95 L907.64,569.95 L908.62,569.95 L909.60,569.95 L910.58,569.95 L911.56,569.95 L912.53,569.95 L913.51,569.95 L914.49,569.95 L915.47,569.95 L916.45,569.95 L917.43,569.95 L918.41,569.95 L919.38,569.95 L920.36,569.95 L921.34,569.95 L922.32,569.95 L923.30,569.95" stroke="#6AA84F" stroke-width="3.9" stroke-dasharray="5.500 12.050" stroke-dashoffset="1.750" stroke-linecap="round"/>
<path d="M140.30,479.74 L141.28,479.80 L142.26,479.87 L143.24,479.93 L144.22,479.99 L145.19,480.06 L146.17,480.12 L147.15,480.19 L148.13,480.25 L149.11,480.31 L150.09,480.38 L151.07,480.44 L152.05,480.51 L153.02,480.57 L154.00,480.63 L154.98,480.70 L155.96,480.76 L156.94,480.83 L157.92,480.89 L158.90,480.95 L159.88,481.02 L160.85,481.08 L161.83,481.14 L162.81,481.21 L163.79,481.27 L164.77,481.33 L165.75,481.40 L166.73,481.46 L167.71,481.52 L168.68,481.59 L169.66,481.65 L170.64,481.71 L171.62,481.77 L172.60,481.84 L173.58,481.90 L174.56,481.96 L175.54,482.03 L176.51,482.09 L177.49,482.15 L178.47,482.21 L179.45,482.28 L180.43,482.34 L181.41,482.40 L182.39,482.46 L183.37,482.53 L184.34,482.59 L185.32,482.65 L186.30,482.71 L187.28,482.78 L188.26,482.84 L189.24,482.90 L190.22,482.96 L191.20,483.03 L192.17,483.09 L193.15,483.15 L194.13,483.21 L195.11,483.27 L196.09,483.34 L197.07,483.40 L198.05,483.46 L199.03,483.52 L200.00,483.58 L200.98,483.64 L201.96,483.71 L202.94,483.77 L203.92,483.83 L204.90,483.89 L205.88,483.95 L206.86,484.01 L207.83,484.07 L208.81,484.14 L209.79,484.20 L210.77,484.26 L211.75,484.32 L212.73,484.38 L213.71,484.44 L214.69,484.50 L215.66,484.56 L216.64,484.62 L217.62,484.69 L218.60,484.75 L219.58,484.81 L220.56,484.87 L221.54,484.93 L222.52,484.99 L223.49,485.05 L224.47,485.11 L225.45,485.17 L226.43,485.23 L227.41,485.29 L228.39,485.35 L229.37,485.41 L230.35,485.47 L231.32,485.53 L232.30,485.59 L233.28,485.65 L234.26,485.72 L235.24,485.78 L236.22,485.84 L237.20,485.90 L238.18,485.96 L239.15,486.02 L240.13,486.08 L241.11,486.14 L242.09,486.19 L243.07,486.25 L244.05,486.31 L245.03,486.37 L246.00,486.43 L246.98,486.49 L247.96,486.55 L248.94,486.61 L249.92,486.67 L250.90,486.73 L251.88,486.79 L252.86,486.85 L253.84,486.91 L254.81,486.97 L255.79,487.03 L256.77,487.09 L257.75,487.15 L258.73,487.21 L259.71,487.26 L260.69,487.32 L261.67,487.38 L262.64,487.44 L263.62,487.50 L264.60,487.56 L265.58,487.62 L266.56,487.68 L267.54,487.74 L268.52,487.79 L269.50,487.85 L270.47,487.91 L271.45,487.97 L272.43,488.03 L273.41,488.09 L274.39,488.15 L275.37,488.20 L276.35,488.26 L277.33,488.32 L278.30,488.38 L279.28,488.44 L280.26,488.50 L281.24,488.55 L282.22,488.61 L283.20,488.67 L284.18,488.73 L285.15,488.79 L286.13,488.84 L287.11,488.90 L288.09,488.96 L289.07,489.02 L290.05,489.08 L291.03,489.13 L292.01,489.19 L292.99,489.25 L293.96,489.31 L294.94,489.36 L295.92,489.42 L296.90,489.48 L297.88,489.54 L298.86,489.59 L299.84,489.65 L300.82,489.71 L301.79,489.77 L302.77,489.82 L303.75,489.88 L304.73,489.94 L305.71,489.99 L306.69,490.05 L307.67,490.11 L308.64,490.17 L309.62,490.22 L310.60,490.28 L311.58,490.34 L312.56,490.39 L313.54,490.45 L314.52,490.51 L315.50,490.56 L316.48,490.62 L317.45,490.68 L318.43,490.73 L319.41,490.79 L320.39,490.85 L321.37,490.90 L322.35,490.96 L323.33,491.02 L324.31,491.07 L325.28,491.13 L326.26,491.19 L327.24,491.24 L328.22,491.30 L329.20,491.35 L330.18,491.41 L331.16,491.47 L332.13,491.52 L333.11,491.58 L334.09,491.63 L335.07,491.69 L336.05,491.75 L337.03,491.80 L338.01,491.86 L338.99,491.91 L339.97,491.97 L340.94,492.02 L341.92,492.08 L342.90,492.14 L343.88,492.19 L344.86,492.25 L345.84,492.30 L346.82,492.36 L347.80,492.41 L348.77,492.47 L349.75,492.52 L350.73,492.58 L351.71,492.63 L352.69,492.69 L353.67,492.74 L354.65,492.80 L355.62,492.85 L356.60,492.91 L357.58,492.97 L358.56,493.02 L359.54,493.07 L360.52,493.13 L361.50,493.18 L362.48,493.24 L363.46,493.29 L364.43,493.35 L365.41,493.40 L366.39,493.46 L367.37,493.51 L368.35,493.57 L369.33,493.62 L370.31,493.68 L371.29,493.73 L372.26,493.79 L373.24,493.84 L374.22,493.89 L375.20,493.95 L376.18,494.00 L377.16,494.06 L378.14,494.11 L379.12,494.17 L380.09,494.22 L381.07,494.27 L382.05,494.33 L383.03,494.38 L384.01,494.44 L384.99,494.49 L385.97,494.54 L386.95,494.60 L387.92,494.65 L388.90,494.70 L389.88,494.76 L390.86,494.81 L391.84,494.87 L392.82,494.92 L393.80,494.97 L394.77,495.03 L395.75,495.08 L396.73,495.13 L397.71,495.19 L398.69,495.24 L399.67,495.29 L400.65,495.35 L401.63,495.40 L402.61,495.45 L403.58,495.51 L404.56,495.56 L405.54,495.61 L406.52,495.67 L407.50,495.72 L408.48,495.77 L409.46,495.82" stroke="#F9A55E" stroke-width="3.9" stroke-dasharray="5.500 11.850" stroke-dashoffset="0.750" stroke-linecap="round"/>
<path d="M429.55,496.90 L430.65,496.96 L431.75,497.02 L432.85,497.08 L433.95,497.14 L435.05,497.20 M446.55,497.80 L447.65,497.86 L448.75,497.92 L449.85,497.98 L450.95,498.04 L452.05,498.09 M464.15,498.73 L465.25,498.78 L466.35,498.84 L467.45,498.90 L468.55,498.95 L469.65,499.01 M481.85,499.64 L482.95,499.70 L484.05,499.75 L485.15,499.81 L486.25,499.86 L487.35,499.92 M499.55,500.54 L500.65,500.60 L501.75,500.65 L502.85,500.71 L503.95,500.76 L505.05,500.82 M516.55,501.40 L517.65,501.45 L518.75,501.51 L519.85,501.56 L520.95,501.62 L522.05,501.67 M534.15,502.27 L535.25,502.33 L536.35,502.38 L537.45,502.44 L538.55,502.49 L539.65,502.54 M551.95,503.15 L553.05,503.20 L554.15,503.25 L555.25,503.31 L556.35,503.36 L557.45,503.41 M569.65,504.00 L570.75,504.06 L571.85,504.11 L572.95,504.16 L574.05,504.21 L575.15,504.27 M587.15,504.84 L588.25,504.89 L589.35,504.94 L590.45,505.00 L591.55,505.05 L592.65,505.10 M604.85,505.68 L605.95,505.73 L607.05,505.78 L608.15,505.83 L609.25,505.88 L610.35,505.93 M622.15,506.48 L623.25,506.53 L624.35,506.58 L625.45,506.63 L626.55,506.69 L627.65,506.74 M639.35,507.27 L640.45,507.32 L641.55,507.37 L642.65,507.42 L643.75,507.47 L644.85,507.52 M656.65,508.06 L657.75,508.11 L658.85,508.16 L659.95,508.21 L661.05,508.26 L662.15,508.31 M673.75,508.83 L674.85,508.88 L675.95,508.93 L677.05,508.97 L678.15,509.02 L679.25,509.07 M686.75,509.41 L687.85,509.45 L688.95,509.50 L690.05,509.55 L691.15,509.60 L692.25,509.65 M704.15,510.17 L705.25,510.22 L706.35,510.26 L707.45,510.31 L708.55,510.36 L709.65,510.41 M721.55,510.92 L722.65,510.97 L723.75,511.02 L724.85,511.07 L725.95,511.11 L727.05,511.16 M739.15,511.68 L740.25,511.72 L741.35,511.77 L742.45,511.82 L743.55,511.86 L744.65,511.91 M756.65,512.42 L757.75,512.46 L758.85,512.51 L759.95,512.55 L761.05,512.60 L762.15,512.65 M773.85,513.13 L774.95,513.18 L776.05,513.22 L777.15,513.27 L778.25,513.32 L779.35,513.36 M791.25,513.85 L792.35,513.90 L793.45,513.94 L794.55,513.99 L795.65,514.03 L796.75,514.08 M808.75,514.56 L809.85,514.61 L810.95,514.65 L812.05,514.70 L813.15,514.74 L814.25,514.78 M826.85,515.29 L827.95,515.33 L829.05,515.38 L830.15,515.42 L831.25,515.46 L832.35,515.51 M844.25,515.98 L845.35,516.02 L846.45,516.07 L847.55,516.11 L848.65,516.15 L849.75,516.20 M861.55,516.66 L862.65,516.70 L863.75,516.74 L864.85,516.78 L865.95,516.83 L867.05,516.87 M878.95,517.33 L880.05,517.37 L881.15,517.41 L882.25,517.46 L883.35,517.50 L884.45,517.54 M896.25,517.99 L897.35,518.03 L898.45,518.07 L899.55,518.11 L900.65,518.16 L901.75,518.20 M914.25,518.67 L915.35,518.71 L916.45,518.75 L917.55,518.79 L918.65,518.83 L919.75,518.87" stroke="#F9A55E" stroke-width="3.9" stroke-linecap="round"/>
<path d="M141.20,44.64 L141.86,45.52 L142.36,46.50 L142.79,47.51 L143.16,48.55 L143.49,49.60 M146.12,61.69 L146.30,62.77 L146.48,63.86 L146.66,64.94 L146.83,66.03 L147.00,67.12 M148.55,78.37 L148.69,79.46 L148.83,80.55 L148.96,81.65 L149.10,82.74 L149.23,83.83 M150.63,96.17 L150.74,97.26 L150.86,98.35 L150.98,99.45 L151.09,100.54 L151.20,101.64 M152.37,113.26 L152.48,114.36 L152.58,115.45 L152.69,116.55 L152.79,117.64 L152.90,118.74 M154.00,130.56 L154.10,131.66 L154.20,132.75 L154.30,133.85 L154.39,134.94 L154.49,136.04 M155.54,147.96 L155.64,149.06 L155.73,150.15 L155.83,151.25 L155.92,152.34 L156.02,153.44 M157.06,165.66 L157.16,166.76 L157.25,167.85 L157.34,168.95 L157.43,170.04 L157.53,171.14 M158.54,183.26 L158.63,184.36 L158.73,185.45 L158.82,186.55 L158.91,187.64 L159.00,188.74 M160.01,200.76 L160.10,201.86 L160.19,202.95 L160.28,204.05 L160.37,205.14 L160.47,206.24 M161.51,218.66 L161.61,219.76 L161.70,220.85 L161.79,221.95 L161.88,223.04 L161.98,224.14 M163.03,236.36 L163.12,237.46 L163.22,238.55 L163.31,239.65 L163.41,240.74 L163.51,241.84 M164.52,253.26 L164.61,254.36 L164.71,255.45 L164.81,256.55 L164.91,257.64 L165.01,258.74 M166.15,271.06 L166.25,272.16 L166.36,273.25 L166.46,274.35 L166.56,275.44 L166.67,276.54 M167.78,287.96 L167.89,289.06 L168.00,290.15 L168.11,291.25 L168.22,292.34 L168.33,293.44 M169.61,305.67 L169.73,306.76 L169.85,307.85 L169.97,308.95 L170.09,310.04 L170.21,311.13 M171.59,323.17 L171.72,324.26 L171.85,325.35 L171.99,326.45 L172.12,327.54 L172.25,328.63 M173.83,340.88 L173.98,341.97 L174.13,343.06 L174.28,344.14 L174.43,345.23 L174.59,346.32 M176.41,358.49 L176.59,359.57 L176.76,360.66 L176.94,361.74 L177.12,362.83 L177.31,363.91 M179.55,376.11 L179.77,377.18 L180.00,378.26 L180.22,379.34 L180.45,380.41 L180.69,381.49 M183.45,392.76 L183.75,393.82 L184.05,394.87 L184.37,395.93 L184.68,396.98 L185.01,398.03 M189.19,409.03 L189.66,410.02 L190.15,411.01 L190.65,411.99 L191.18,412.96 L191.72,413.91 M198.29,422.54 L199.08,423.30 L199.89,424.05 L200.72,424.77 L201.56,425.47 L202.43,426.15 M212.21,432.45 L213.16,433.00 L214.12,433.54 L215.08,434.07 L216.04,434.61 L217.01,435.14 M226.98,440.57 L227.95,441.10 L228.92,441.62 L229.88,442.14 L230.85,442.67 L231.82,443.19 M242.17,448.76 L243.14,449.28 L244.11,449.79 L245.09,450.31 L246.06,450.82 L247.03,451.33 M258.34,457.12 L259.32,457.61 L260.31,458.10 L261.29,458.59 L262.28,459.07 L263.27,459.55 M274.68,464.87 L275.69,465.31 L276.70,465.76 L277.70,466.20 L278.71,466.64 L279.72,467.07 M291.13,471.70 L292.16,472.10 L293.18,472.48 L294.22,472.87 L295.25,473.25 L296.28,473.63 M306.88,477.26 L307.93,477.59 L308.98,477.92 L310.03,478.25 L311.08,478.58 L312.13,478.90 M323.93,482.20 L325.00,482.47 L326.07,482.74 L327.13,483.01 L328.20,483.27 L329.27,483.53 M340.40,486.00 L341.48,486.22 L342.56,486.44 L343.64,486.65 L344.72,486.86 L345.80,487.07 M356.78,488.99 L357.87,489.16 L358.96,489.33 L360.04,489.50 L361.13,489.67 L362.22,489.83 M373.07,491.33 L374.16,491.47 L375.25,491.60 L376.35,491.74 L377.44,491.87 L378.53,492.00 M389.86,493.24 L390.96,493.35 L392.05,493.46 L393.15,493.57 L394.24,493.67 L395.34,493.78 M430.56,496.57 L431.65,496.64 L432.75,496.71 L433.85,496.79 L434.95,496.86 L436.04,496.93 M447.55,497.65 L448.65,497.72 L449.75,497.78 L450.85,497.85 L451.95,497.91 L453.05,497.98 M465.15,498.67 L466.25,498.73 L467.35,498.80 L468.45,498.86 L469.55,498.92 L470.65,498.98 M482.85,499.64 L483.95,499.70 L485.05,499.76 L486.15,499.82 L487.25,499.87 L488.35,499.93 M500.55,500.57 L501.65,500.63 L502.75,500.68 L503.85,500.74 L504.95,500.80 L506.05,500.85 M517.55,501.44 L518.65,501.49 L519.75,501.55 L520.85,501.60 L521.95,501.66 L523.05,501.71 M535.15,502.32 L536.25,502.37 L537.35,502.43 L538.45,502.48 L539.55,502.53 L540.65,502.59 M552.95,503.19 L554.05,503.25 L555.15,503.30 L556.25,503.35 L557.35,503.41 L558.45,503.46 M570.65,504.05 L571.75,504.10 L572.85,504.16 L573.95,504.21 L575.05,504.26 L576.15,504.31 M588.15,504.89 L589.25,504.94 L590.35,504.99 L591.45,505.04 L592.55,505.10 L593.65,505.15 M605.85,505.72 L606.95,505.77 L608.05,505.83 L609.15,505.88 L610.25,505.93 L611.35,505.98 M623.15,506.53 L624.25,506.58 L625.35,506.63 L626.45,506.68 L627.55,506.73 L628.65,506.78 M640.35,507.32 L641.45,507.37 L642.55,507.42 L643.65,507.47 L644.75,507.52 L645.85,507.57 M657.65,508.11 L658.75,508.16 L659.85,508.20 L660.95,508.25 L662.05,508.30 L663.15,508.35 M674.75,508.87 L675.85,508.92 L676.95,508.97 L678.05,509.02 L679.15,509.07 L680.25,509.12 M687.75,509.45 L688.85,509.50 L689.95,509.55 L691.05,509.59 L692.15,509.64 L693.25,509.69 M705.15,510.21 L706.25,510.26 L707.35,510.31 L708.45,510.36 L709.55,510.40 L710.65,510.45 M722.55,510.97 L723.65,511.01 L724.75,511.06 L725.85,511.11 L726.95,511.16 L728.05,511.20 M740.15,511.72 L741.25,511.77 L742.35,511.81 L743.45,511.86 L744.55,511.91 L745.65,511.95 M757.65,512.46 L758.75,512.50 L759.85,512.55 L760.95,512.60 L762.05,512.64 L763.15,512.69 M774.85,513.18 L775.95,513.22 L777.05,513.27 L778.15,513.31 L779.25,513.36 L780.35,513.40 M792.25,513.89 L793.35,513.94 L794.45,513.98 L795.55,514.03 L796.65,514.07 L797.75,514.12 M809.75,514.60 L810.85,514.65 L811.95,514.69 L813.05,514.74 L814.15,514.78 L815.25,514.82 M827.85,515.33 L828.95,515.37 L830.05,515.42 L831.15,515.46 L832.25,515.50 L833.35,515.55 M845.25,516.02 L846.35,516.06 L847.45,516.11 L848.55,516.15 L849.65,516.19 L850.75,516.23 M862.55,516.70 L863.65,516.74 L864.75,516.78 L865.85,516.82 L866.95,516.87 L868.05,516.91 M879.95,517.37 L881.05,517.41 L882.15,517.45 L883.25,517.49 L884.35,517.54 L885.45,517.58 M897.25,518.03 L898.35,518.07 L899.45,518.11 L900.55,518.15 L901.65,518.19 L902.75,518.23 M915.25,518.70 L916.35,518.75 L917.45,518.79 L918.55,518.83 L919.65,518.87 L920.75,518.91 M408.04,494.90 L409.07,494.98 L410.10,495.07 L411.13,495.15 L412.16,495.23 L413.18,495.31 L414.21,495.39 L415.24,495.47 L416.27,495.55 L417.30,495.63 L418.33,495.70 L419.36,495.78" stroke="#1F3FFF" stroke-width="3.9" stroke-linecap="round"/>
</g>
<g font-family="'Liberation Sans', sans-serif" font-weight="bold" fill="#000" text-rendering="geometricPrecision">
<g font-size="28.5px" text-anchor="end">
<text x="122.1" y="578.25">0</text>
<text x="122.1" y="487.13">500</text>
<text x="122.1" y="396.00">1000</text>
<text x="122.1" y="304.88">1500</text>
<text x="122.1" y="213.75">2000</text>
<text x="122.1" y="122.63">2500</text>
<text x="122.1" y="31.50">3000</text>
</g>
<g font-size="27.95px" text-anchor="middle">
<text x="140.30" y="610.3">0</text>
<text x="336.05" y="610.3">100</text>
<text x="531.80" y="610.3">200</text>
<text x="727.55" y="610.3">300</text>
<text x="923.30" y="610.3">400</text>
</g>
<text font-size="32.9px" x="459.80" y="662.2">Time <tspan x="545.90" y="662.2">[</tspan><tspan x="558.30" y="663.1" font-family="'Liberation Serif', serif" font-weight="normal" font-size="31px" stroke="#000" stroke-width="1.1">µ</tspan><tspan x="575.70" y="662.2">s</tspan><tspan x="594.20" y="662.2">]</tspan></text>
<text transform="translate(32.2,296.5) rotate(-90)" font-size="33.52px" text-anchor="middle">Signal Amplitude</text>
<text x="542.7" y="67.5" font-size="46.1px" text-anchor="middle" fill="#6AA84F">PE Signal</text>
<rect x="559.4" y="237.3" width="344.5" height="157.4" fill="#fff" stroke="#707070" stroke-width="1.25"/>
<g font-size="24.3px">
<path d="M562.8,254.80 H617.2" stroke="#000" stroke-width="5" stroke-linecap="round" fill="none"/>
<text x="624.2" y="263.40">Collected FID</text>
<path d="M562.2,285.65 H617.60" stroke="#FF1489" stroke-width="3.9" stroke-dasharray="6.0 11.7" stroke-linecap="round" fill="none" clip-path="url(#lg)"/>
<text x="624.2" y="294.25">Crystalline Component</text>
<path d="M562.2,316.50 H617.60" stroke="#6AA84F" stroke-width="3.9" stroke-dasharray="6.0 11.7" stroke-linecap="round" fill="none" clip-path="url(#lg)"/>
<text x="624.2" y="325.10">Interfacial Component</text>
<path d="M562.2,347.35 H617.60" stroke="#F9A55E" stroke-width="3.9" stroke-dasharray="6.0 11.7" stroke-linecap="round" fill="none" clip-path="url(#lg)"/>
<text x="624.2" y="355.95">Amorphous Component</text>
<path d="M562.2,378.20 H617.60" stroke="#1F3FFF" stroke-width="3.9" stroke-dasharray="6.0 11.7" stroke-linecap="round" fill="none" clip-path="url(#lg)"/>
<text x="624.2" y="386.80">Composite Fit</text>
</g>
</g>
</g>
</svg>
</body></html>
